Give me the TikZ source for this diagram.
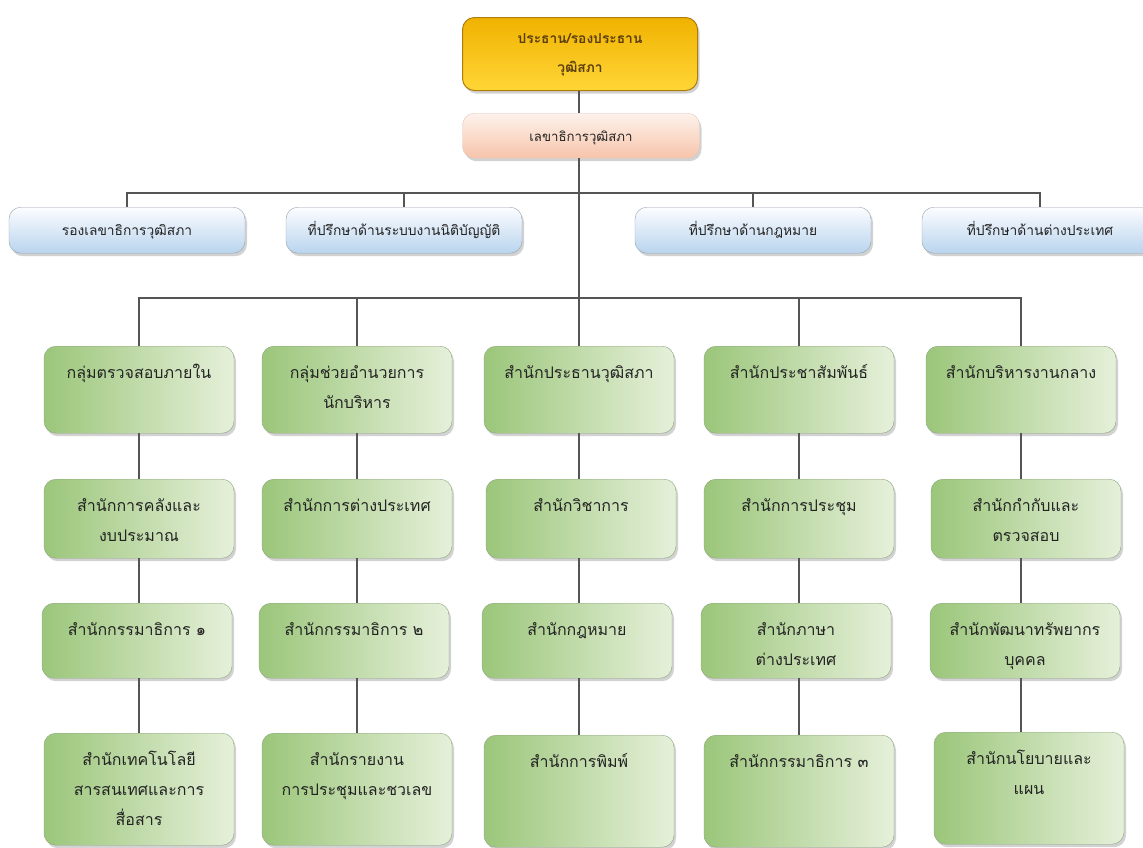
\documentclass[tikz,border=0pt]{standalone}
\usepackage{fontspec}
\newfontfamily\thaifont[Script=Thai]{Loma}
\usepackage{tikz}
\usetikzlibrary{positioning,shadows,calc}
\definecolor{linegrey}{RGB}{85,85,85}
\definecolor{goldtop}{RGB}{240,178,0}
\definecolor{goldbot}{RGB}{255,214,55}
\definecolor{goldline}{RGB}{175,125,10}
\definecolor{goldtext}{RGB}{90,62,15}
\definecolor{peachtop}{RGB}{253,242,236}
\definecolor{peachbot}{RGB}{247,196,170}
\definecolor{peachline}{RGB}{225,200,190}
\definecolor{bluetop}{RGB}{252,253,255}
\definecolor{bluebot}{RGB}{185,212,238}
\definecolor{blueline}{RGB}{150,162,175}
\definecolor{greendark}{RGB}{155,198,122}
\definecolor{greenlight}{RGB}{230,240,218}
\definecolor{greenline}{RGB}{140,165,125}
\definecolor{boxtext}{RGB}{35,35,35}

\begin{document}
\begin{tikzpicture}[
			x=1pt, y=-1pt,
			basebox/.style={rectangle, rounded corners=12pt, inner sep=0pt, align=center, anchor=north,
				drop shadow={opacity=0.35, shadow xshift=2pt, shadow yshift=-3pt}},
			chairbox/.style={basebox, draw=goldline, line width=1pt, top color=goldtop, bottom color=goldbot,
				text width=235pt, text height=26pt, text depth=47pt, text=goldtext,
				font=\thaifont\bfseries\fontsize{13.8}{29}\selectfont},
			secbox/.style={basebox, draw=peachline, top color=peachtop, bottom color=peachbot,
				text width=237pt, text height=28pt, text depth=17pt, text=boxtext,
				font=\thaifont\fontsize{13.2}{20}\selectfont},
			advbox/.style={basebox, draw=blueline, top color=bluetop, bottom color=bluebot,
				text width=236pt, text height=28pt, text depth=18pt, text=boxtext,
				font=\thaifont\fontsize{13.8}{20}\selectfont},
			unitbox/.style={basebox, draw=greenline, left color=greendark, right color=greenlight,
				text width=190pt, text height=32pt, text=boxtext,
				font=\thaifont\fontsize{16}{30}\selectfont},
			rowone/.style={unitbox, text depth=55pt},
			rowtwo/.style={unitbox, text depth=47pt},
			rowthree/.style={unitbox, text depth=43pt},
			rowfour/.style={unitbox, text depth=80pt},
			link/.style={draw=linegrey, line width=1.5pt}
			]
			\useasboundingbox (0,0) rectangle (1143,847);
			\fill[white] (0,0) rectangle (1143,847);
			\clip (0,0) rectangle (1143,847);
			
			% Top
			\node[chairbox] (chair) at (580,17) {ประธาน/รองประธาน\\วุฒิสภา};
			\node[secbox] (sec) at (581,113) {เลขาธิการวุฒิสภา};
			
			% Advisers
			\coordinate (hubA) at (579,193);
			\coordinate (hubB) at (579,298);
			\node[advbox] (deputy) at (127,207) {รองเลขาธิการวุฒิสภา};
			\node[advbox] (advlaw) at (404,207) {ที่ปรึกษาด้านระบบงานนิติบัญญัติ};
			\node[advbox] (advlegal) at (753,207) {ที่ปรึกษาด้านกฎหมาย};
			\node[advbox] (advforeign) at (1040,207) {ที่ปรึกษาด้านต่างประเทศ};
			
			% Bureaus, row 1
			\node[rowone] (audit) at (139,346) {กลุ่มตรวจสอบภายใน};
			\node[rowone] (exec) at (357,346) {กลุ่มช่วยอำนวยการ\\นักบริหาร};
			\node[rowone] (office) at (579,346) {สำนักประธานวุฒิสภา};
			\node[rowone] (pr) at (799,346) {สำนักประชาสัมพันธ์};
			\node[rowone] (admin) at (1021,346) {สำนักบริหารงานกลาง};
			
			% Bureaus, row 2
			\node[rowtwo] (finance) at (139,479) {สำนักการคลังและ\\งบประมาณ};
			\node[rowtwo] (foreign) at (357,479) {สำนักการต่างประเทศ};
			\node[rowtwo] (academic) at (581,479) {สำนักวิชาการ};
			\node[rowtwo] (meeting) at (799,479) {สำนักการประชุม};
			\node[rowtwo] (inspect) at (1026,479) {สำนักกำกับและ\\ตรวจสอบ};
			
			% Bureaus, row 3
			\node[rowthree] (comone) at (137,603) {สำนักกรรมาธิการ ๑};
			\node[rowthree] (comtwo) at (354,603) {สำนักกรรมาธิการ ๒};
			\node[rowthree] (law) at (577,603) {สำนักกฎหมาย};
			\node[rowthree] (lang) at (796,603) {สำนักภาษา\\ต่างประเทศ};
			\node[rowthree] (hr) at (1025,603) {สำนักพัฒนาทรัพยากร\\บุคคล};
			
			% Bureaus, row 4
			\node[rowfour] (ict) at (139,733) {สำนักเทคโนโลยี\\สารสนเทศและการ\\สื่อสาร};
			\node[rowfour] (report) at (357,733) {สำนักรายงาน\\การประชุมและชวเลข};
			\node[rowfour] (print) at (579,735) {สำนักการพิมพ์};
			\node[rowfour] (comthree) at (799,735) {สำนักกรรมาธิการ ๓};
			\node[rowfour] (plan) at (1029,732) {สำนักนโยบายและ\\แผน};
			
			% Lines
			\draw[link] (chair.south -| hubA) -- (sec.north -| hubA);
			\draw[link] (sec.south -| hubA) -- (office.north -| hubA);
			\draw[link] (deputy.north) |- (hubA) -| (advforeign.north);
			\draw[link] (advlaw.north) -- (advlaw.north |- hubA);
			\draw[link] (advlegal.north) -- (advlegal.north |- hubA);
			\draw[link] (audit.north) |- (hubB) -| (admin.north);
			\draw[link] (exec.north) -- (exec.north |- hubB);
			\draw[link] (pr.north) -- (pr.north |- hubB);
			% one straight line down each column
			\foreach \t/\a/\b in {audit/audit/finance, audit/finance/comone, audit/comone/ict,
				exec/exec/foreign, exec/foreign/comtwo, exec/comtwo/report,
				office/office/academic, office/academic/law, office/law/print,
				pr/pr/meeting, pr/meeting/lang, pr/lang/comthree,
				admin/admin/inspect, admin/inspect/hr, admin/hr/plan}
				\draw[link] (\a.south -| \t.north) -- (\b.north -| \t.north);
		\end{tikzpicture}
\end{document}
